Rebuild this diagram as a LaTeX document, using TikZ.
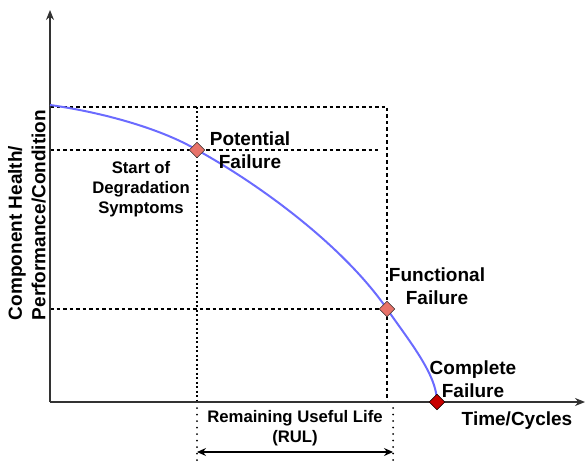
\documentclass[tikz,border=0pt]{standalone}
\usepackage{fontspec}
\setmainfont{Liberation Sans}
\usetikzlibrary{arrows.meta}
\definecolor{curveblue}{HTML}{6B6BFF}
\definecolor{salmon}{HTML}{E8736A}
\definecolor{darkred}{HTML}{C80000}
\definecolor{axisgray}{HTML}{333333}
\begin{document}
\begin{tikzpicture}[x=1pt,y=-1pt,
  axis/.style={draw=axisgray,line width=1.2pt},
  guide/.style={draw=black,line width=1.1pt,dash pattern=on 3.5pt off 3pt},
  guidefine/.style={draw=black,line width=1.1pt,dash pattern=on 2pt off 2.5pt},
  dots/.style={draw=black,line width=2pt,line cap=round,dash pattern=on 0pt off 6.5pt},
  health/.style={draw=curveblue,line width=2pt},
  marker/.style={draw=black!80,line width=0.6pt,minimum size=11pt,inner sep=0pt,
    shape=rectangle,rotate=45},
  bigtxt/.style={font=\fontsize{19}{23.5}\selectfont\bfseries,align=center,inner sep=0pt},
  smalltxt/.style={font=\fontsize{16.7}{20}\selectfont\bfseries,align=center,inner sep=0pt}]
\useasboundingbox (0,0) rectangle (588,465);

% reference points
\coordinate (O) at (50,402);
\coordinate (ytop) at (50,10);
\coordinate (xend) at (585,402);
\coordinate (h0) at (50,105);
\coordinate (pf) at (197,150);
\coordinate (ff) at (387,309);
\coordinate (cf) at (437,402);

% guide lines
\draw[guide] (50,107) -- (387,107) -- (387,402);
\draw[guide] (50,150) -- (378,150);
\draw[guide] (50,309) -- (387,309);
\draw[guidefine] (197,107) -- (197,402);
\draw[dots] (197,408) -- (197,466);
\draw[dots] (393,408) -- (393,466);

% axes
\draw[axis,-{Stealth[length=10pt,width=8pt]}] (O) -- (ytop);
\draw[axis,-{Stealth[length=10pt,width=8pt]}] (O) -- (xend);

% degradation curve
\draw[health] (h0) .. controls (100,112) and (160,128) .. (pf)
  .. controls (257,183) and (342,244) .. (ff)
  .. controls (410,342) and (437,375) .. (cf);

% failure markers
\node[marker,fill=salmon] (mpf) at (pf) {};
\node[marker,fill=salmon] (mff) at (ff) {};
\node[marker,fill=darkred,draw=black] (mcf) at (cf) {};

% remaining useful life span
\coordinate (rulL) at (197,452);
\coordinate (rulR) at (393,452);
\draw[line width=1.2pt,{Stealth[length=9pt,width=8pt,inset=3pt]}-{Stealth[length=9pt,width=8pt,inset=3pt]}] (rulL) -- (rulR);

% labels
\node[bigtxt] (tpf) at (250,150) {Potential\\Failure};
\node[smalltxt] (tsd) at (141,189) {Start of\\Degradation\\Symptoms};
\node[bigtxt] (tff) at (437,286) {Functional\\Failure};
\node[bigtxt] (tcf) at (473,379) {Complete\\Failure};
\node[bigtxt] (ttc) at (517,421) {Time/Cycles};
\node[smalltxt] (trul) at (295,428) {Remaining Useful Life\\(RUL)};
\node[bigtxt,align=left,rotate=90] (tyl) at (27,215) {Component Health/\\Performance/Condition};
\end{tikzpicture}
\end{document}
